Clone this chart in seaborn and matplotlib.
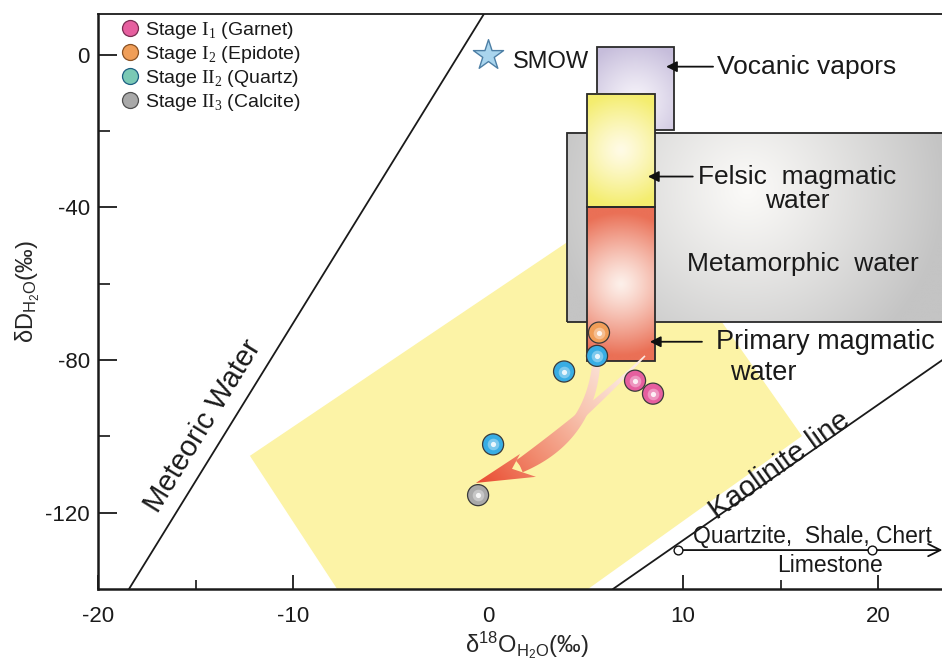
import numpy as np
import pandas as pd
import matplotlib
matplotlib.use("Agg")
import matplotlib.pyplot as plt
import seaborn as sns
from matplotlib.patches import Polygon, Rectangle
from matplotlib.lines import Line2D
from matplotlib.colors import LinearSegmentedColormap, to_rgb

# ---------------- data ----------------
point_stage = ["Garnet", "Garnet", "Epidote", "Quartz", "Quartz", "Quartz", "Calcite"]
point_d18O = [7.54, 8.46, 5.69, 5.59, 3.90, 0.26, -0.51]
point_dD = [-85.4, -88.8, -72.8, -78.9, -83.0, -102.1, -115.4]

legend_stage = ["Garnet", "Epidote", "Quartz", "Calcite"]
legend_labels = [r"Stage $\mathrm{I}_{1}$ (Garnet)", r"Stage $\mathrm{I}_{2}$ (Epidote)",
                 r"Stage $\mathrm{II}_{2}$ (Quartz)", r"Stage $\mathrm{II}_{3}$ (Calcite)"]

smow_x = [0.0]
smow_y = [0.0]

box_names = ["Metamorphic water", "Vocanic vapors", "Felsic magmatic water", "Primary magmatic water"]
box_x0 = [4.05, 5.60, 5.08, 5.08]
box_x1 = [25.0, 9.54, 8.56, 8.56]
box_y0 = [-70.0, -19.6, -40.0, -80.3]
box_y1 = [-20.4, 2.0, -10.2, -40.0]

field_x = [-12.21, 7.49, 16.10, 5.13, -7.74]
field_y = [-105.1, -37.3, -99.9, -140.0, -140.0]

mwl_x = [-18.41, -0.21]
mwl_y = [-140.0, 10.7]
kl_x = [6.41, 24.0]
kl_y = [-140.0, -77.5]

rock_x = [9.74, 19.7]
rock_y = -129.8

x_ticks = [-20, -10, 0, 10, 20]
x_minor = [-15, -5, 5, 15]
y_ticks = [0, -40, -80, -120]
y_minor = [-20, -60, -100]
XLIM = (-20, 23.28)
YLIM = (-140, 10.7)

# ---------------- style ----------------
sns.set_theme(style="ticks")
plt.rcParams["font.family"] = ["Liberation Sans", "DejaVu Sans"]
plt.rcParams["mathtext.fontset"] = "custom"
plt.rcParams["mathtext.rm"] = "Liberation Serif"
plt.rcParams["mathtext.sf"] = "Liberation Sans"
plt.rcParams["mathtext.it"] = "Liberation Sans:italic"
plt.rcParams["text.color"] = "#1a1a1a"

fig = plt.figure(figsize=(9.42, 6.68), dpi=100)
ax = fig.add_axes([98 / 942, 1 - 589 / 668, (942 - 98) / 942, (589 - 14) / 668])
ax.set_facecolor("white")

sx = 844 / (XLIM[1] - XLIM[0])
sy = 575 / (YLIM[1] - YLIM[0])

# yellow field
ax.add_patch(Polygon(np.column_stack([field_x, field_y]), closed=True,
                     fc="#fcf3a6", ec="none", zorder=1))

# lines
ax.plot(mwl_x, mwl_y, color="#1a1a1a", lw=1.3, zorder=2)
ax.plot(kl_x, kl_y, color="#1a1a1a", lw=1.3, zorder=2)


def radial_box(x0, x1, y0, y1, edge, center, cx=0.5, cy=0.5, z=3, reach=0.85, power=1.2):
    nx, ny = 240, 240
    X, Y = np.meshgrid(np.linspace(0, 1, nx), np.linspace(0, 1, ny))
    w = (x1 - x0) * sx
    h = (y1 - y0) * sy
    r = np.sqrt(((X - cx) * w) ** 2 + ((Y - cy) * h) ** 2)
    t = np.clip(r / (r.max() * reach), 0, 1) ** power
    e = np.array(to_rgb(edge))
    c = np.array(to_rgb(center))
    img = c * (1 - t)[..., None] + e * t[..., None]
    ax.imshow(img, extent=(x0, x1, y0, y1), origin="lower", aspect="auto",
              zorder=z, interpolation="bilinear")
    ax.add_patch(Rectangle((x0, y0), x1 - x0, y1 - y0, fill=False,
                           ec="#2a2a2a", lw=1.3, zorder=z + 0.1))


# Metamorphic
radial_box(box_x0[0], box_x1[0], box_y0[0], box_y1[0], "#c4c4c4", "#fbfaf8",
           cx=0.44, cy=0.7, z=3, reach=0.75, power=1.1)
# Volcanic vapors
radial_box(box_x0[1], box_x1[1], box_y0[1], box_y1[1], "#c6bddb", "#f6f3fa",
           cx=0.5, cy=0.35, z=3.5, reach=0.9)
# Felsic
radial_box(box_x0[2], box_x1[2], box_y0[2], box_y1[2], "#f4ed6e", "#fffbe6",
           cx=0.5, cy=0.5, z=4, reach=0.85)
# Primary
radial_box(box_x0[3], box_x1[3], box_y0[3], box_y1[3], "#ea7056", "#fdf0ea",
           cx=0.5, cy=0.5, z=4, reach=0.85)

# ---------------- curved gradient arrow ----------------
S = np.array([sx, sy])


def bez(p0, p1, p2, n=80):
    t = np.linspace(0, 1, n)[:, None]
    return (1 - t) ** 2 * p0 + 2 * (1 - t) * t * p1 + t ** 2 * p2


def band(p0, p1, p2, w0, w1, n=80):
    P = bez(np.array(p0) * S, np.array(p1) * S, np.array(p2) * S, n)
    d = np.gradient(P, axis=0)
    d /= np.linalg.norm(d, axis=1)[:, None]
    nrm = np.column_stack([-d[:, 1], d[:, 0]])
    w = np.linspace(w0, w1, n)[:, None] / 2
    poly = np.vstack([P + nrm * w, (P - nrm * w)[::-1]])
    return poly / S


arrow_polys = [
    band((5.54, -81.6), (5.13, -100.6), (1.64, -107.7), 8, 14),
    band((8.05, -78.9), (5.33, -92.8), (1.64, -107.7), 1.5, 13),
    np.array([(1.64, -104.6), (-0.62, -112.2), (2.46, -110.6), (1.23, -108.5)]),
]
g0 = np.array([6.77, -80.3]) * S
g1 = np.array([-0.62, -112.2]) * S
gd = g1 - g0
L2 = np.dot(gd, gd)
ex = (-1.5, 9.0, -114.0, -76.0)
GX, GY = np.meshgrid(np.linspace(ex[0], ex[1], 300), np.linspace(ex[2], ex[3], 300))
T = ((GX * sx - g0[0]) * gd[0] + (GY * sy - g0[1]) * gd[1]) / L2
T = np.clip(T, 0, 1)
acmap = LinearSegmentedColormap.from_list("arr", ["#fcebe3", "#f8c4b0", "#f18b6f", "#e94a30"])
for poly in arrow_polys:
    im = ax.imshow(T, cmap=acmap, vmin=0, vmax=1, extent=ex, origin="lower",
                   aspect="auto", zorder=6, interpolation="bilinear")
    patch = Polygon(poly, closed=True, fc="none", ec="none", transform=ax.transData)
    ax.add_patch(patch)
    im.set_clip_path(patch)

# ---------------- points ----------------
face = {"Garnet": "#e65f9f", "Epidote": "#f09e58", "Quartz": "#38ade4", "Calcite": "#a9a9a9"}
legend_face = {"Garnet": "#e65f9f", "Epidote": "#f09e58", "Quartz": "#7ac9b5", "Calcite": "#a9a9a9"}
edge = {"Garnet": "#7a2c52", "Epidote": "#8a5224", "Quartz": "#1d5f82", "Calcite": "#4f4f4f"}

df = pd.DataFrame({"d18O": point_d18O, "dD": point_dD, "stage": point_stage})
sns.scatterplot(data=df, x="d18O", y="dD", hue="stage", palette=face, s=230,
                edgecolor="#3a3a3a", linewidth=0.9, legend=False, ax=ax, zorder=7)
ax.scatter(df["d18O"], df["dD"], s=70, color="white", alpha=0.35, lw=0, zorder=7.2)
ax.scatter(df["d18O"], df["dD"], s=14, color="white", alpha=0.85, lw=0, zorder=7.3)

# SMOW
ax.scatter(smow_x, smow_y, marker="*", s=520, color="#a9d5ee", edgecolor="#4d7fa5",
           linewidth=1.0, zorder=7)
ax.text(1.28, -1.8, "SMOW", fontsize=17, ha="left", va="center", zorder=9)

# ---------------- annotation arrows & labels ----------------
aprops = dict(arrowstyle="-|>", color="#111111", lw=1.3, mutation_scale=16, shrinkA=0, shrinkB=0)
ax.annotate("", xy=(9.13, -3.1), xytext=(11.54, -3.1), arrowprops=aprops, zorder=9)
ax.annotate("", xy=(8.2, -31.9), xytext=(10.5, -31.9), arrowprops=aprops, zorder=9)
ax.annotate("", xy=(8.3, -75.2), xytext=(10.97, -75.2), arrowprops=aprops, zorder=9)

ax.text(11.75, -3.1, "Vocanic vapors", fontsize=19, ha="left", va="center", zorder=9)
ax.text(15.85, -35.2, "Felsic  magmatic\nwater", fontsize=19, ha="center", va="center",
        multialignment="center", linespacing=1.0, zorder=9)
ax.text(16.15, -54.8, "Metamorphic  water", fontsize=19, ha="center", va="center", zorder=9)
ax.text(11.7, -75.2, "Primary magmatic", fontsize=19.5, ha="left", va="center", zorder=9)
ax.text(12.4, -83.3, "water", fontsize=19.5, ha="left", va="center", zorder=9)

ax.text(-14.62, -97.3, "Meteoric Water", fontsize=21, rotation=58.3, ha="center", va="center",
        rotation_mode="anchor", zorder=9)
ax.text(14.97, -107.6, "Kaolinite line", fontsize=21, rotation=35.5, ha="center", va="center",
        rotation_mode="anchor", zorder=9)

# rock range
ax.annotate("", xy=(23.3, rock_y), xytext=(rock_x[0], rock_y),
            arrowprops=dict(arrowstyle="->", color="#111111", lw=1.3, mutation_scale=22,
                            shrinkA=0, shrinkB=0), zorder=9)
ax.scatter(rock_x, [rock_y, rock_y], s=40, facecolor="white", edgecolor="#111111",
           linewidth=1.0, zorder=10)
ax.text(10.51, -126.3, "Quartzite,  Shale, Chert", fontsize=16.5, ha="left", va="center", zorder=9)
ax.text(17.54, -133.9, "Limestone", fontsize=16.5, ha="center", va="center", zorder=9)

# ---------------- legend ----------------
handles = [Line2D([0], [0], marker="o", ls="none", markersize=11.5,
                  markerfacecolor=legend_face[s], markeredgecolor=edge[s], markeredgewidth=0.9)
           for s in legend_stage]
leg = ax.legend(handles, legend_labels, loc="upper left", bbox_to_anchor=(0.0175, 1.0),
                frameon=False, fontsize=14, handletextpad=0.2, labelspacing=0.15,
                borderaxespad=0.1, handlelength=1.15, borderpad=0.2)
leg.set_zorder(11)

# ---------------- axes ----------------
ax.set_xlim(*XLIM)
ax.set_ylim(*YLIM)
ax.set_xticks(x_ticks)
ax.set_xticks(x_minor, minor=True)
ax.set_yticks(y_ticks)
ax.set_yticks(y_minor, minor=True)
ax.set_xticklabels([str(v) for v in x_ticks])
ax.set_yticklabels([str(v) for v in y_ticks])
ax.tick_params(axis="x", which="major", direction="in", length=10, width=1.3, pad=12,
               labelsize=16, colors="#1a1a1a")
ax.tick_params(axis="x", which="minor", direction="in", length=6.5, width=1.3)
ax.tick_params(axis="y", which="major", direction="in", length=14, width=1.3, pad=6,
               labelsize=16, colors="#1a1a1a")
ax.tick_params(axis="y", which="minor", direction="in", length=8.5, width=1.3)
for s in ["left", "bottom"]:
    ax.spines[s].set_linewidth(1.8)
    ax.spines[s].set_color("#1a1a1a")
ax.spines["top"].set_linewidth(1.3)
ax.spines["top"].set_color("#1a1a1a")
ax.spines["right"].set_visible(False)
for sp in ax.spines.values():
    sp.set_zorder(12)

ax.set_xlabel(r"δ$^{\mathsf{18}}$O$_{\mathsf{H_2O}}$(‰)", fontsize=17)
ax.set_ylabel(r"δD$_{\mathsf{H_2O}}$(‰)", fontsize=17)
ax.xaxis.set_label_coords(0.508, -0.07)
ax.yaxis.set_label_coords(-0.066, 0.518)

fig.savefig("out.png", dpi=100)
